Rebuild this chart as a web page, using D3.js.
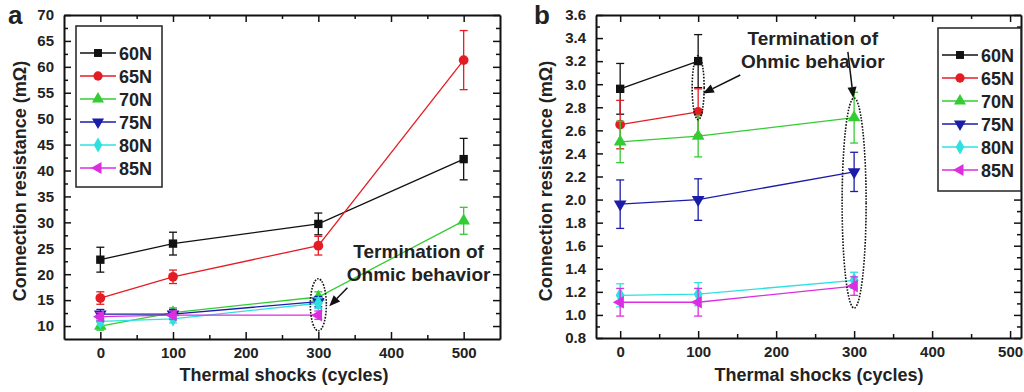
<!DOCTYPE html>
<html>
<head>
<meta charset="utf-8">
<script src="https://cdn.jsdelivr.net/npm/d3@7"></script>
<style>
  body { margin: 0; background: #fff; }
  svg { display: block; font-family: "Liberation Sans", Arial, sans-serif; }
  .axis path, .axis line { stroke: #111; }
  .axis path { stroke-width: 2; }
  .axis line { stroke-width: 1.5; }
  .axis text { font-size: 15px; font-weight: bold; fill: #222; }
  .lbl { font-weight: bold; fill: #222; }
</style>
</head>
<body>
<div id="chart"></div>
<script>
// series names, colours and markers
const seriesNames = ["60N", "65N", "70N", "75N", "80N", "85N"];
const seriesColors = ["#111111", "#e41d25", "#33cc33", "#1c1caa", "#2fe0e0", "#dc2ee0"];
const seriesSymbols = ["square", "circle", "up", "down", "diamond", "left"];

// panel a: cycles, means and error half-widths (mOhm)
const cyclesA = [[0, 100, 300, 500], [0, 100, 300, 500], [0, 100, 300, 500], [0, 100, 300], [0, 100, 300], [0, 100, 300]];
const meansA = [
  [22.8, 25.9, 29.7, 42.2],
  [15.4, 19.5, 25.5, 61.3],
  [10.0, 12.6, 15.6, 30.3],
  [12.3, 12.3, 14.7],
  [10.9, 11.4, 14.4],
  [11.8, 12.1, 12.1]
];
const errsA = [
  [2.4, 2.2, 2.1, 4.0],
  [1.2, 1.3, 1.8, 5.7],
  [0.8, 0.9, 1.0, 2.6],
  [0.9, 0.9, 1.0],
  [0.8, 0.8, 1.0],
  [0.8, 0.8, 0.8]
];

// panel b
const cyclesB = [[0, 100], [0, 100], [0, 100, 300], [0, 100, 300], [0, 100, 300], [0, 100, 300]];
const meansB = [
  [2.96, 3.20],
  [2.65, 2.76],
  [2.50, 2.55, 2.71],
  [1.96, 2.00, 2.24],
  [1.17, 1.18, 1.30],
  [1.11, 1.11, 1.25]
];
const errsB = [
  [0.22, 0.23],
  [0.21, 0.20],
  [0.18, 0.18, 0.22],
  [0.21, 0.18, 0.17],
  [0.10, 0.10, 0.07],
  [0.12, 0.12, 0.08]
];

const xTicks = [0, 100, 200, 300, 400, 500];
const yTicksA = d3.range(10, 70.1, 5);
const yTicksB = d3.range(0.8, 3.61, 0.2);

const W = 1024, H = 392;
const svg = d3.select("#chart").append("svg").attr("width", W).attr("height", H);
svg.append("rect").attr("width", W).attr("height", H).attr("fill", "#fff");

const symbolTypes = {
  square: [d3.symbolSquare, 0, 70],
  circle: [d3.symbolCircle, 0, 75],
  up: [d3.symbolTriangle, 0, 70],
  down: [d3.symbolTriangle, 180, 70],
  diamond: [d3.symbolDiamond, 0, 70],
  left: [d3.symbolTriangle, -90, 70]
};

function marker(g, name, x, y, color, scale) {
  const [t, rot, size] = symbolTypes[name];
  g.append("path")
    .attr("d", d3.symbol().type(t).size(size * (scale || 1))())
    .attr("transform", `translate(${x},${y}) rotate(${rot})`)
    .attr("fill", color);
}

function panel(opt) {
  const g = svg.append("g");
  const x = d3.scaleLinear().domain(opt.xDomain).range([opt.left, opt.right]);
  const y = d3.scaleLinear().domain(opt.yDomain).range([opt.bottom, opt.top]);

  // minor ticks
  const xMinor = d3.range(50, 500, 100);
  const yMinor = opt.yMinor;
  const minor = [
    [d3.axisBottom(x).tickValues(xMinor), `translate(0,${opt.bottom})`],
    [d3.axisTop(x).tickValues(xMinor), `translate(0,${opt.top})`],
    [d3.axisLeft(y).tickValues(yMinor), `translate(${opt.left},0)`],
    [d3.axisRight(y).tickValues(yMinor), `translate(${opt.right},0)`]
  ];
  minor.forEach(([ax, tr]) => {
    g.append("g").attr("class", "axis").attr("transform", tr)
      .call(ax.tickSize(-4).tickFormat(""))
      .call(s => s.select(".domain").remove());
  });

  g.append("g").attr("class", "axis").attr("transform", `translate(0,${opt.bottom})`)
    .call(d3.axisBottom(x).tickValues(xTicks).tickSize(-7).tickPadding(8).tickSizeOuter(0));
  g.append("g").attr("class", "axis").attr("transform", `translate(0,${opt.top})`)
    .call(d3.axisTop(x).tickValues(xTicks).tickSize(-7).tickFormat("").tickSizeOuter(0));
  g.append("g").attr("class", "axis").attr("transform", `translate(${opt.left},0)`)
    .call(d3.axisLeft(y).tickValues(opt.yTicks).tickSize(-7).tickPadding(10).tickSizeOuter(0)
      .tickFormat(opt.yFormat));
  g.append("g").attr("class", "axis").attr("transform", `translate(${opt.right},0)`)
    .call(d3.axisRight(y).tickValues(opt.yTicks).tickSize(-7).tickFormat("").tickSizeOuter(0));

  // data
  const line = d3.line().x(d => x(d[0])).y(d => y(d[1]));
  seriesNames.forEach((name, i) => {
    const pts = opt.cycles[i].map((c, j) => [c, opt.means[i][j], opt.errs[i][j]]);
    const col = seriesColors[i];
    const s = g.append("g");
    s.append("path").attr("d", line(pts)).attr("fill", "none")
      .attr("stroke", col).attr("stroke-width", 1.3);
    pts.forEach(p => {
      const px = x(p[0]), y1 = y(p[1] + p[2]), y2 = y(p[1] - p[2]);
      s.append("line").attr("x1", px).attr("x2", px).attr("y1", y1).attr("y2", y2)
        .attr("stroke", col).attr("stroke-width", 1.3);
      [y1, y2].forEach(yy => s.append("line").attr("x1", px - 4).attr("x2", px + 4)
        .attr("y1", yy).attr("y2", yy).attr("stroke", col).attr("stroke-width", 1.3));
      marker(s, seriesSymbols[i], px, y(p[1]), col);
    });
  });

  // legend
  const lg = g.append("g");
  lg.append("rect").attr("x", opt.legend.x).attr("y", opt.legend.y)
    .attr("width", opt.legend.w).attr("height", opt.legend.h)
    .attr("fill", "#fff").attr("stroke", "#222").attr("stroke-width", 1.5);
  seriesNames.forEach((name, i) => {
    const ly = opt.legend.y + 27 + i * 23;
    const lx = opt.legend.x + 4;
    lg.append("line").attr("x1", lx).attr("x2", lx + 36).attr("y1", ly).attr("y2", ly)
      .attr("stroke", seriesColors[i]).attr("stroke-width", 1.3);
    marker(lg, seriesSymbols[i], lx + 18, ly, seriesColors[i], 0.9);
    lg.append("text").attr("class", "lbl").attr("x", lx + 39).attr("y", ly + 6.5)
      .attr("font-size", 18).text(name);
  });

  // axis titles
  g.append("text").attr("class", "lbl").attr("font-size", 18).attr("text-anchor", "middle")
    .attr("transform", `translate(${opt.yTitleX},181) rotate(-90)`)
    .text("Connection resistance (mΩ)");
  g.append("text").attr("class", "lbl").attr("font-size", 18).attr("text-anchor", "middle")
    .attr("x", opt.xTitleX).attr("y", 381).text("Thermal shocks (cycles)");
  g.append("text").attr("class", "lbl").attr("font-size", 26)
    .attr("x", opt.tagX).attr("y", 24).text(opt.tag);

  return { g, x, y };
}

function annotText(g, cx, by) {
  ["Termination of", "Ohmic behavior"].forEach((t, i) => {
    g.append("text").attr("class", "lbl").attr("font-size", 19).attr("text-anchor", "middle")
      .attr("x", cx).attr("y", by + i * 23).text(t);
  });
}

function ellipse(g, cx, cy, rx, ry) {
  g.append("ellipse").attr("cx", cx).attr("cy", cy).attr("rx", rx).attr("ry", ry)
    .attr("fill", "none").attr("stroke", "#111").attr("stroke-width", 1.6)
    .attr("stroke-dasharray", "1.6,1.4");
}

function arrow(g, x1, y1, x2, y2) {
  const a = Math.atan2(y2 - y1, x2 - x1), L = 11, w = 4.5;
  const bx = x2 - L * Math.cos(a), by = y2 - L * Math.sin(a);
  g.append("line").attr("x1", x1).attr("y1", y1).attr("x2", bx).attr("y2", by)
    .attr("stroke", "#111").attr("stroke-width", 1.5);
  g.append("path").attr("fill", "#111").attr("d",
    `M${x2},${y2}L${bx - w * Math.sin(a)},${by + w * Math.cos(a)}L${bx + w * Math.sin(a)},${by - w * Math.cos(a)}Z`);
}

const pa = panel({
  xDomain: [-50, 550], yDomain: [7.5, 70],
  left: 64, right: 500, top: 15, bottom: 339,
  yTicks: yTicksA, yMinor: d3.range(12.5, 70, 5), yFormat: d3.format("d"),
  cycles: cyclesA, means: meansA, errs: errsA,
  legend: { x: 76, y: 26, w: 86, h: 161 },
  yTitleX: 26, xTitleX: 284, tag: "a", tagX: 8
});
ellipse(pa.g, pa.x(300), pa.y(14.1), 8, 26);
arrow(pa.g, pa.x(340), pa.y(17.4), pa.x(315), pa.y(13.8));
annotText(pa.g, pa.x(438), pa.y(23.1));

const pb = panel({
  xDomain: [-31, 514], yDomain: [0.8, 3.6],
  left: 596, right: 1021, top: 15, bottom: 338,
  yTicks: yTicksB, yMinor: d3.range(0.9, 3.6, 0.2), yFormat: d3.format(".1f"),
  cycles: cyclesB, means: meansB, errs: errsB,
  legend: { x: 938, y: 28, w: 83, h: 163 },
  yTitleX: 552, xTitleX: 819, tag: "b", tagX: 534
});
ellipse(pb.g, pb.x(100), pb.y(2.97), 6, 32);
ellipse(pb.g, pb.x(300), pb.y(1.97), 12, 105);
arrow(pb.g, pb.x(154), pb.y(3.08), pb.x(106), pb.y(2.92));
arrow(pb.g, pb.x(292), pb.y(3.28), pb.x(299), pb.y(2.88));
annotText(pb.g, pb.x(247), pb.y(3.34));
</script>
</body>
</html>
